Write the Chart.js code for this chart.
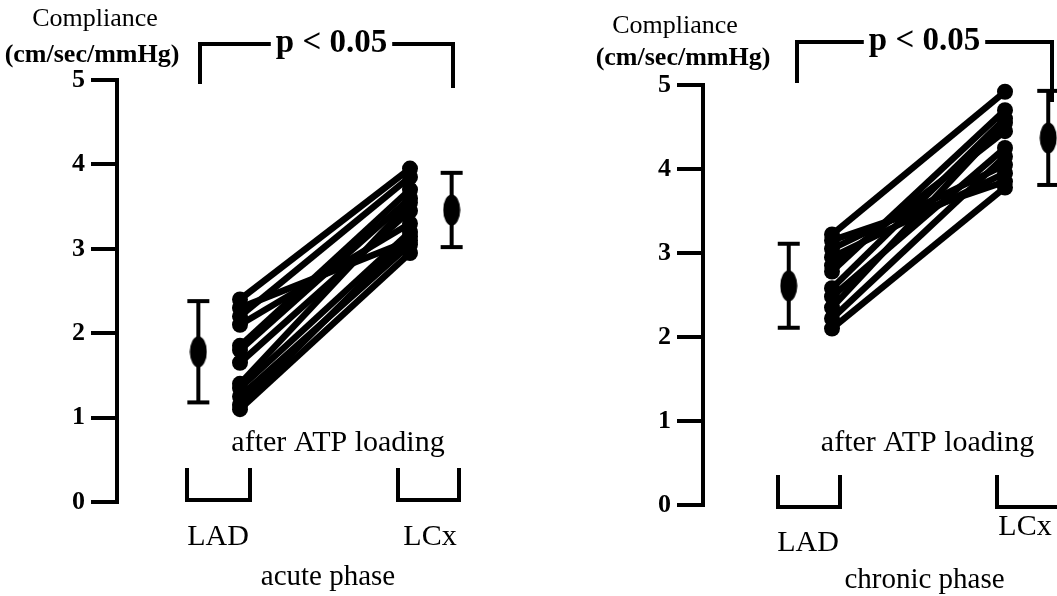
<!DOCTYPE html>
<html>
<head>
<meta charset="utf-8">
<title>Compliance after ATP loading</title>
<script src="https://cdn.jsdelivr.net/npm/chart.js@4/dist/chart.umd.min.js"></script>
<style>
  body { margin: 0; background: #fff; }
  #wrap { position: relative; width: 1057px; height: 596px; overflow: hidden; background: #fff; }
  canvas { position: absolute; top: 0; }
</style>
</head>
<body>
<div id="wrap">
  <canvas id="acute" width="560" height="596" style="left:0"></canvas>
  <canvas id="chronic" width="497" height="596" style="left:560px"></canvas>
</div>
<script>
// categories and tick labels
const categories = ['LAD', 'LCx'];
const yTicks = [0, 1, 2, 3, 4, 5];
const phases = ['acute phase', 'chronic phase'];

// individual compliance values (cm/sec/mmHg), paired LAD -> LCx
const acuteLAD = [2.40, 2.30, 2.20, 2.10, 1.85, 1.80, 1.65, 1.40, 1.35, 1.25, 1.15, 1.10];
const acuteLCx = [3.95, 3.10, 3.85, 3.30, 3.70, 3.60, 3.45, 3.55, 3.20, 3.05, 3.15, 2.95];
const chronicLAD = [3.22, 3.15, 3.05, 2.95, 2.85, 2.78, 2.58, 2.48, 2.35, 2.22, 2.10];
const chronicLCx = [4.92, 3.85, 4.05, 3.95, 4.45, 4.70, 4.60, 4.25, 4.55, 4.15, 3.78];

// mean and SD per category
const acuteMean = [1.78, 3.46];
const acuteSD = [0.60, 0.44];
const chronicMean = [2.61, 4.37];
const chronicSD = [0.50, 0.56];

const FONT = "'Liberation Serif', 'DejaVu Serif', serif";

// ellipse marker for the means
function meanMarker() {
    const c = document.createElement('canvas');
    c.width = 18; c.height = 32;
    const g = c.getContext('2d');
    g.fillStyle = '#000';
    g.beginPath();
    g.ellipse(9, 16, 8.5, 15.5, 0, 0, Math.PI * 2);
    g.fill();
    return c;
}

const decorPlugin = {
    id: 'decor',
    afterDraw(chart, args, o) {
        const ctx = chart.ctx;
        const xs = chart.scales.x, ys = chart.scales.y;
        const xL = xs.getPixelForValue(1), xC = xs.getPixelForValue(2);
        const y0 = ys.getPixelForValue(0), y5 = ys.getPixelForValue(5);
        const ax = chart.chartArea.left;
        ctx.save();
        ctx.strokeStyle = '#000';
        ctx.fillStyle = '#000';
        ctx.lineWidth = 4;
        ctx.lineCap = 'butt';
        ctx.lineJoin = 'miter';

        // open brackets under each group
        const yb = y0 + o.bracketDy;
        [[xL, o.ladBracket], [xC, o.lcxBracket]].forEach(([x, b]) => {
            ctx.beginPath();
            ctx.moveTo(x + b[0], yb - o.bracketH);
            ctx.lineTo(x + b[0], yb);
            ctx.lineTo(x + b[1], yb);
            ctx.lineTo(x + b[1], yb - o.bracketH);
            ctx.stroke();
        });

        // significance bracket
        const p = o.pBracket;
        const pl = xL + p.left, pr = xC + p.right, pt = y5 + p.top;
        ctx.font = `bold 33px ${FONT}`;
        ctx.textAlign = 'center';
        ctx.textBaseline = 'middle';
        const pText = 'p < 0.05';
        const tw = ctx.measureText(pText).width;
        const tc = (pl + pr) / 2 + p.textDx;
        ctx.beginPath();
        ctx.moveTo(pl, pt + p.leftDrop);
        ctx.lineTo(pl, pt);
        ctx.lineTo(tc - tw / 2 - 5, pt);
        ctx.moveTo(tc + tw / 2 + 5, pt);
        ctx.lineTo(pr, pt);
        ctx.lineTo(pr, pt + p.rightDrop);
        ctx.stroke();
        ctx.fillText(pText, tc, pt + p.textDy);

        // category and phase labels
        ctx.font = `30px ${FONT}`;
        ctx.fillText(categories[0], xL + o.ladLabel[0], y0 + o.ladLabel[1]);
        ctx.fillText(categories[1], xC + o.lcxLabel[0], y0 + o.lcxLabel[1]);
        ctx.fillText('after ATP loading', (xL + xC) / 2 + o.atpLabel[0], y0 + o.atpLabel[1]);
        ctx.font = `29px ${FONT}`;
        ctx.fillText(o.phase, (xL + xC) / 2 + o.phaseLabel[0], y0 + o.phaseLabel[1]);

        // axis title
        ctx.textBaseline = 'alphabetic';
        ctx.font = `26px ${FONT}`;
        ctx.fillText('Compliance', ax + o.title1[0], y5 + o.title1[1]);
        ctx.font = `bold 26px ${FONT}`;
        ctx.fillText('(cm/sec/mmHg)', ax + o.title2[0], y5 + o.title2[1]);
        ctx.restore();
    }
};

function makePanel(id, lad, lcx, mean, sd, layout, decor) {
    const datasets = [];
    lad.forEach((v, i) => {
        datasets.push({
            data: [{ x: 1, y: v }, { x: 2, y: lcx[i] }],
            borderColor: '#000',
            borderWidth: 6.5,
            pointRadius: 8,
            pointBackgroundColor: '#000',
            pointBorderWidth: 0,
            showLine: true
        });
    });
    const marker = meanMarker();
    [1 - layout.meanOffset, 2 + layout.meanOffset].forEach((x, i) => {
        datasets.push({
            data: [{ x: x, y: mean[i] - sd[i] }, { x: x, y: mean[i] + sd[i] }],
            borderColor: '#000',
            borderWidth: 4,
            pointStyle: 'line',
            pointRadius: 11,
            pointBorderWidth: 4,
            pointBorderColor: '#000',
            showLine: true
        });
        datasets.push({
            data: [{ x: x, y: mean[i] }],
            pointStyle: marker,
            pointRadius: 8,
            showLine: false
        });
    });

    return new Chart(document.getElementById(id), {
        type: 'scatter',
        data: { datasets: datasets },
        plugins: [decorPlugin],
        options: {
            responsive: false,
            animation: false,
            clip: false,
            layout: { autoPadding: false, padding: { left: 0, right: 0, top: layout.top, bottom: layout.bottom } },
            plugins: {
                legend: { display: false },
                tooltip: { enabled: false },
                decor: decor
            },
            scales: {
                x: {
                    type: 'linear',
                    display: false,
                    min: layout.xMin,
                    max: layout.xMax
                },
                y: {
                    type: 'linear',
                    min: 0,
                    max: 5,
                    afterBuildTicks: (scale) => { scale.ticks = yTicks.map(v => ({ value: v })); },
                    afterFit: (scale) => { scale.width = layout.axisX; },
                    border: { display: true, width: 4, color: '#000' },
                    grid: {
                        drawOnChartArea: false,
                        drawTicks: true,
                        tickLength: 26,
                        tickWidth: 4,
                        tickColor: '#000',
                        lineWidth: 4,
                        color: '#000'
                    },
                    ticks: {
                        color: '#000',
                        padding: 6,
                        font: { family: FONT, size: 26, weight: 'bold' }
                    }
                }
            }
        }
    });
}

// left panel: axis at 117px, LAD at 240px, LCx at 410px
makePanel('acute', acuteLAD, acuteLCx, acuteMean, acuteSD,
    { top: 80, bottom: 94, axisX: 117, xMin: 1 - 123 / 170, xMax: 1 - 123 / 170 + 443 / 170, meanOffset: 0.245 },
    {
        phase: phases[0],
        bracketDy: -2, bracketH: 32,
        ladBracket: [-53, 10], lcxBracket: [-12, 49],
        ladLabel: [-22, 35], lcxLabel: [20, 35],
        phaseLabel: [3, 75], atpLabel: [13, -59],
        pBracket: { left: -40, right: 43, top: -36, leftDrop: 40, rightDrop: 44, textDx: 5, textDy: -1 },
        title1: [-22, -54], title2: [-25, -18]
    });

// right panel: axis at 143px (canvas), LAD at 272px, LCx at 445px
makePanel('chronic', chronicLAD, chronicLCx, chronicMean, chronicSD,
    { top: 85, bottom: 91, axisX: 143, xMin: 1 - 129 / 173, xMax: 1 - 129 / 173 + 354 / 173, meanOffset: 0.25 },
    {
        phase: phases[1],
        bracketDy: 2, bracketH: 32,
        ladBracket: [-54, 8], lcxBracket: [-8, 55],
        ladLabel: [-24, 38], lcxLabel: [20, 22],
        phaseLabel: [6, 75], atpLabel: [9, -62],
        pBracket: { left: -35, right: 47, top: -43, leftDrop: 41, rightDrop: 60, textDx: 0, textDy: -1 },
        title1: [-28, -52], title2: [-20, -20]
    });
</script>
</body>
</html>
